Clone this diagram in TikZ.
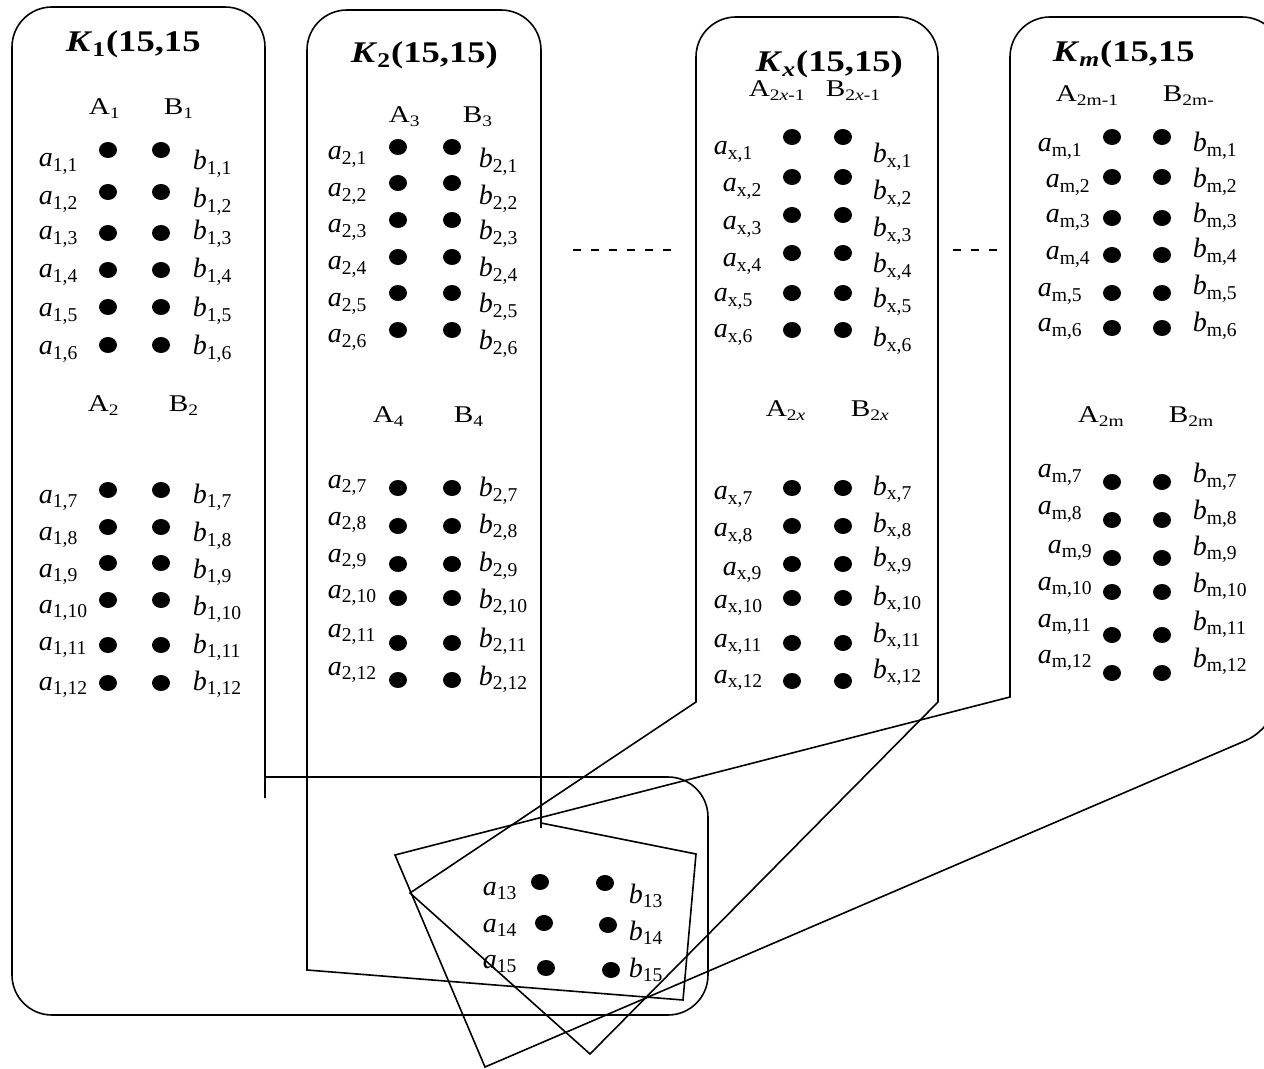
\documentclass[tikz,border=0pt]{standalone}
\usepackage{fontspec}
\setmainfont{Liberation Serif}
\newfontfamily\widefont[FakeStretch=1.22]{Liberation Serif}
\usetikzlibrary{shapes.geometric}
\tikzset{
	vtx/.style={ellipse,fill,inner sep=0pt,minimum width=9pt,minimum height=8pt},
	lbl/.style={anchor=base west,inner sep=0pt,font=\fontsize{14}{16}\selectfont},
	hdr/.style={anchor=base west,inner sep=0pt,font=\widefont\fontsize{12}{14}\selectfont},
	ttl/.style={anchor=base west,inner sep=0pt,font=\widefont\fontsize{15}{18}\selectfont\bfseries},
	gap/.style={dash pattern=on 4pt off 5pt},
}
\newcommand{\vxa}[1]{\textit{a}\textsubscript{#1}}
\newcommand{\vxb}[1]{\textit{b}\textsubscript{#1}}

\begin{document}
\begin{tikzpicture}[x=0.5pt,y=-0.5pt,line width=0.8pt]
	\useasboundingbox (0,0) rectangle (1264,1069);
		% outlines of the four blocks
		\draw[rounded corners=20pt] (265,798) -- (265,7) -- (12,7) -- (12,1015) -- (708,1015) -- (708,777) -- (265,777);
		\draw[rounded corners=20pt] (541,828) -- (541,10) -- (307,10) -- (307,500) [sharp corners] -- (307,970) -- (683,1000) -- (696,854) -- (541,823);
		\draw[rounded corners=20pt] (696,400) -- (696,17) -- (938,17) -- (938,400) [sharp corners] -- (938,702) -- (590,1054) -- (410,893) -- (696,702) -- cycle;
		\draw[rounded corners=20pt] (1010,400) -- (1010,17) -- (1282,17) -- (1282,725) -- (883.5,896) [sharp corners] -- (485,1067) -- (395,855) -- (1010,697) -- cycle;
		\draw[gap] (573,250) -- (675,250);
		\draw[gap] (953,250) -- (999,250);
		% titles
		\node[ttl] at (65,52) (T1) {\textit{K}\textsubscript{1}(15,15};
		\node[ttl] at (350,63) (T2) {\textit{K}\textsubscript{2}(15,15)};
		\node[ttl] at (755,72) (Tx) {\textit{K}\textsubscript{\textit{x}}(15,15)};
		\node[ttl] at (1052,62) (Tm) {\textit{K}\textsubscript{\textit{m}}(15,15};
		% A and B headers
		\node[hdr] at (88,115) (A1) {A\textsubscript{1}};
		\node[hdr] at (163,115) (B1) {B\textsubscript{1}};
		\node[hdr] at (87,412) (A2) {A\textsubscript{2}};
		\node[hdr] at (168,412) (B2) {B\textsubscript{2}};
		\node[hdr] at (388,123) (A3) {A\textsubscript{3}};
		\node[hdr] at (462,123) (B3) {B\textsubscript{3}};
		\node[hdr] at (372,423) (A4) {A\textsubscript{4}};
		\node[hdr] at (453,423) (B4) {B\textsubscript{4}};
		\node[hdr] at (748,97) (Ax1) {A\textsubscript{2\textit{x}-1}};
		\node[hdr] at (825,97) (Bx1) {B\textsubscript{2\textit{x}-1}};
		\node[hdr] at (765,417) (Ax2) {A\textsubscript{2\textit{x}}};
		\node[hdr] at (850,417) (Bx2) {B\textsubscript{2\textit{x}}};
		\node[hdr] at (1055,102) (Am1) {A\textsubscript{2m-1}};
		\node[hdr] at (1162,102) (Bm1) {B\textsubscript{2m-}};
		\node[hdr] at (1077,423) (Am2) {A\textsubscript{2m}};
		\node[hdr] at (1168,423) (Bm2) {B\textsubscript{2m}};
		% block 1
		\foreach \r/\y/\ya/\yb in {1/150/167/170, 2/192/205/208, 3/233/240/240, 4/270/278/278, 5/307/317/317, 6/345/355/355,
				7/490/503/503, 8/527/540/542, 9/563/577/578, 10/600/613/615, 11/645/650/653, 12/683/690/690}{
			\node[vtx] at (108,\y) (a1\r) {};
			\node[vtx] at (161,\y) (b1\r) {};
			\node[lbl] at (38,\ya) (la1\r) {\vxa{1,\r}};
			\node[lbl] at (192,\yb) (lb1\r) {\vxb{1,\r}};
		}
		% block 2
		\foreach \r/\y/\ya/\yb in {1/147/160/168, 2/183/197/205, 3/220/233/240, 4/257/270/277, 5/293/307/313, 6/330/343/350,
				7/488/488/497, 8/526/525/533, 9/564/562/572, 10/598/598/608, 11/643/637/647, 12/680/675/685}{
			\node[vtx] at (398,\y) (a2\r) {};
			\node[vtx] at (452,\y) (b2\r) {};
			\node[lbl] at (327,\ya) (la2\r) {\vxa{2,\r}};
			\node[lbl] at (478,\yb) (lb2\r) {\vxb{2,\r}};
		}
		% block x
		\foreach \r/\y/\xl/\ya/\yb in {1/137/713/155/163, 2/177/722/192/200, 3/215/722/230/237, 4/253/722/267/273, 5/293/713/302/308, 6/330/713/338/347,
				7/488/713/500/495, 8/526/713/537/532, 9/564/722/575/567, 10/598/713/608/605, 11/643/713/647/642, 12/681/713/683/678}{
			\node[vtx] at (792,\y) (ax\r) {};
			\node[vtx] at (843,\y) (bx\r) {};
			\node[lbl] at (\xl,\ya) (lax\r) {\vxa{x,\r}};
			\node[lbl] at (872,\yb) (lbx\r) {\vxb{x,\r}};
		}
		% block m
		\foreach \r/\y/\xl/\ya/\yb in {1/137/1037/152/152, 2/177/1045/188/188, 3/218/1045/223/223, 4/255/1045/260/258, 5/293/1037/297/295, 6/328/1037/332/332,
				7/482/1037/478/483, 8/520/1037/515/520, 9/558/1047/553/555, 10/592/1037/590/592, 11/635/1037/627/630, 12/673/1037/663/667}{
			\node[vtx] at (1112,\y) (am\r) {};
			\node[vtx] at (1162,\y) (bm\r) {};
			\node[lbl] at (\xl,\ya) (lam\r) {\vxa{m,\r}};
			\node[lbl] at (1192,\yb) (lbm\r) {\vxb{m,\r}};
		}
		% shared vertices
		\foreach \r/\xa/\ya/\xb/\yb/\ta/\tb in {13/540/882/605/883/895/903, 14/544/923/608/925/932/940, 15/546/968/611/970/968/977}{
			\node[vtx] at (\xa,\ya) (a\r) {};
			\node[vtx] at (\xb,\yb) (b\r) {};
			\node[lbl] at (482,\ta) (la\r) {\vxa{\r}};
			\node[lbl] at (628,\tb) (lb\r) {\vxb{\r}};
		}
	\end{tikzpicture}
\end{document}
